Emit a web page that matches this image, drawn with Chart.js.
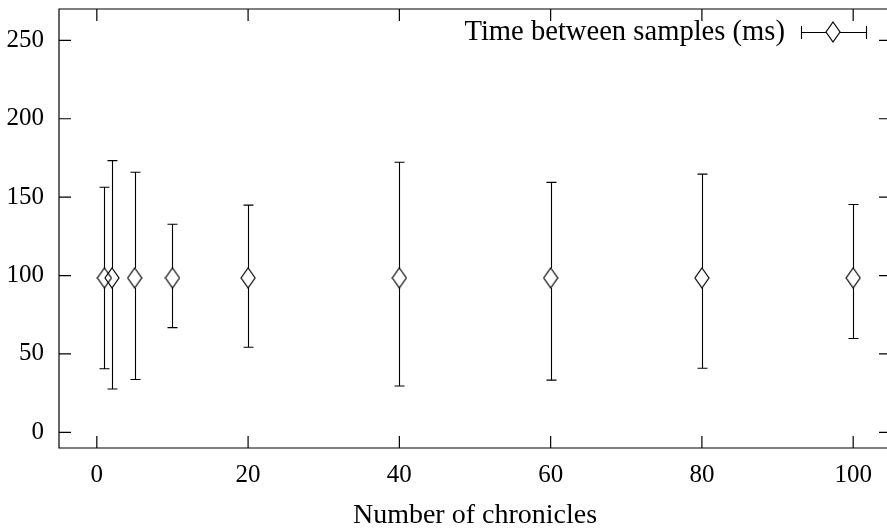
<!DOCTYPE html>
<html>
<head>
<meta charset="utf-8">
<script src="https://cdn.jsdelivr.net/npm/chart.js@4/dist/chart.umd.min.js"></script>
<style>
html,body{margin:0;padding:0;background:#fff;overflow:hidden;width:887px;height:530px;}
canvas{display:block;}
</style>
</head>
<body>
<canvas id="c" width="900" height="530"></canvas>
<script>
// ---- data ----
const chronicles = [1, 2, 5, 10, 20, 40, 60, 80, 100];
const meanMs     = [98.5, 98.5, 98.5, 98.5, 98.5, 98.5, 98.5, 98.5, 98.5];
const lowMs      = [40.5, 27.6, 33.7, 66.8, 54.3, 29.5, 33.3, 40.9, 59.8];
const highMs     = [156.3, 173.3, 165.9, 132.7, 144.9, 172.3, 159.4, 164.7, 145.3];
const xTickValues = [0, 20, 40, 60, 80, 100];
const yTickValues = [0, 50, 100, 150, 200, 250];
const seriesLabel = 'Time between samples (ms)';
const xTitle = 'Number of chronicles';

const FAMILY = "'Liberation Serif', serif";
const FONT = {family: FAMILY, size: 25, weight: 'normal'};
const TEXT_FONT = {family: FAMILY, size: 28, weight: 'normal', lineHeight: 1.0};
const KEY_FONT_SIZE = 28.6;
const INK = '#000';

// diamond marker image
function makeDiamond() {
  const c = document.createElement('canvas');
  c.width = 16; c.height = 22;
  const g = c.getContext('2d');
  g.strokeStyle = INK; g.lineWidth = 1.2;
  g.beginPath();
  g.moveTo(8, 1); g.lineTo(15, 11); g.lineTo(8, 21); g.lineTo(1, 11); g.closePath();
  g.stroke();
  return c;
}
const diamond = makeDiamond();

const errorBars = {
  id: 'errorBars',
  afterDatasetsDraw(chart) {
    const ctx = chart.ctx, xs = chart.scales.x, ys = chart.scales.y;
    ctx.save();
    ctx.strokeStyle = INK; ctx.lineWidth = 1.1;
    for (let i = 0; i < chronicles.length; i++) {
      const px = Math.round(xs.getPixelForValue(chronicles[i])) + 0.5;
      const pc = ys.getPixelForValue(meanMs[i]);
      const ph = ys.getPixelForValue(highMs[i]);
      const pl = ys.getPixelForValue(lowMs[i]);
      ctx.beginPath();
      ctx.moveTo(px, ph); ctx.lineTo(px, pc - 10);
      ctx.moveTo(px, pc + 10); ctx.lineTo(px, pl);
      ctx.moveTo(px - 5, ph); ctx.lineTo(px + 5, ph);
      ctx.moveTo(px - 5, pl); ctx.lineTo(px + 5, pl);
      ctx.stroke();
    }
    ctx.restore();
  }
};

const keyBox = {
  id: 'keyBox',
  afterDraw(chart) {
    const ctx = chart.ctx;
    const textRight = 785, cy = 32, x0 = 801, x1 = 866, cx = 833, hw = 7, hh = 10;
    ctx.save();
    ctx.fillStyle = INK;
    ctx.font = KEY_FONT_SIZE + 'px ' + FAMILY;
    ctx.textAlign = 'right';
    ctx.textBaseline = 'alphabetic';
    ctx.fillText(seriesLabel, textRight, 40);
    ctx.strokeStyle = INK; ctx.lineWidth = 1.1;
    ctx.beginPath();
    ctx.moveTo(x0, cy + 0.5); ctx.lineTo(cx - hw, cy + 0.5);
    ctx.moveTo(cx + hw, cy + 0.5); ctx.lineTo(x1, cy + 0.5);
    ctx.moveTo(x0 + 0.5, cy - 6); ctx.lineTo(x0 + 0.5, cy + 7);
    ctx.moveTo(x1 + 0.5, cy - 6); ctx.lineTo(x1 + 0.5, cy + 7);
    ctx.stroke();
    ctx.lineWidth = 1.2;
    ctx.beginPath();
    ctx.moveTo(cx, cy - hh); ctx.lineTo(cx + hw, cy); ctx.lineTo(cx, cy + hh); ctx.lineTo(cx - hw, cy); ctx.closePath();
    ctx.stroke();
    ctx.restore();
  }
};

const frame = {
  id: 'frame',
  afterDraw(chart) {
    const ctx = chart.ctx, a = chart.chartArea, xs = chart.scales.x, ys = chart.scales.y;
    const L = 12;
    ctx.save();
    ctx.strokeStyle = INK; ctx.lineWidth = 1.2;
    ctx.beginPath();
    ctx.rect(a.left, a.top, a.right - a.left, a.bottom - a.top);
    xs.ticks.forEach(t => {
      const p = xs.getPixelForValue(t.value);
      ctx.moveTo(p, a.bottom); ctx.lineTo(p, a.bottom - L);
      ctx.moveTo(p, a.top); ctx.lineTo(p, a.top + L);
    });
    ys.ticks.forEach(t => {
      const p = ys.getPixelForValue(t.value);
      ctx.moveTo(a.left, p); ctx.lineTo(a.left + L, p);
      ctx.moveTo(a.right, p); ctx.lineTo(a.right - L, p);
    });
    ctx.stroke();
    ctx.restore();
  }
};

new Chart(document.getElementById('c'), {
  type: 'scatter',
  data: {
    datasets: [{
      label: seriesLabel,
      data: chronicles.map((x, i) => ({x: x, y: meanMs[i]})),
      pointStyle: diamond,
      pointRadius: 8,
      pointHoverRadius: 8,
      borderColor: INK,
      backgroundColor: INK,
      showLine: false
    }]
  },
  options: {
    responsive: false,
    animation: false,
    devicePixelRatio: 1,
    layout: {padding: {left: 0, top: 5, right: 4, bottom: 0}},
    plugins: {
      tooltip: {enabled: false},
      legend: {display: false}
    },
    scales: {
      x: {
        type: 'linear',
        min: -5, max: 105,
        afterBuildTicks(s) { s.ticks = xTickValues.map(v => ({value: v})); },
        afterFit(s) { s.height = 82; s.paddingLeft = 0; s.paddingRight = 0; },
        grid: {display: false, drawTicks: false},
        border: {display: false},
        ticks: {color: INK, font: FONT, padding: 12, maxRotation: 0,
                callback: v => String(v)},
        title: {display: true, text: xTitle, color: INK, font: TEXT_FONT,
                padding: {top: 0, bottom: 0}}
      },
      y: {
        type: 'linear',
        min: -10, max: 270,
        afterBuildTicks(s) { s.ticks = yTickValues.map(v => ({value: v})); },
        afterFit(s) { s.width = 59; s.paddingTop = 0; s.paddingBottom = 0; },
        grid: {display: false, drawTicks: false},
        border: {display: false},
        ticks: {color: INK, font: FONT, padding: 15, callback: v => String(v)}
      }
    }
  },
  plugins: [errorBars, frame, keyBox]
});
</script>
</body>
</html>
